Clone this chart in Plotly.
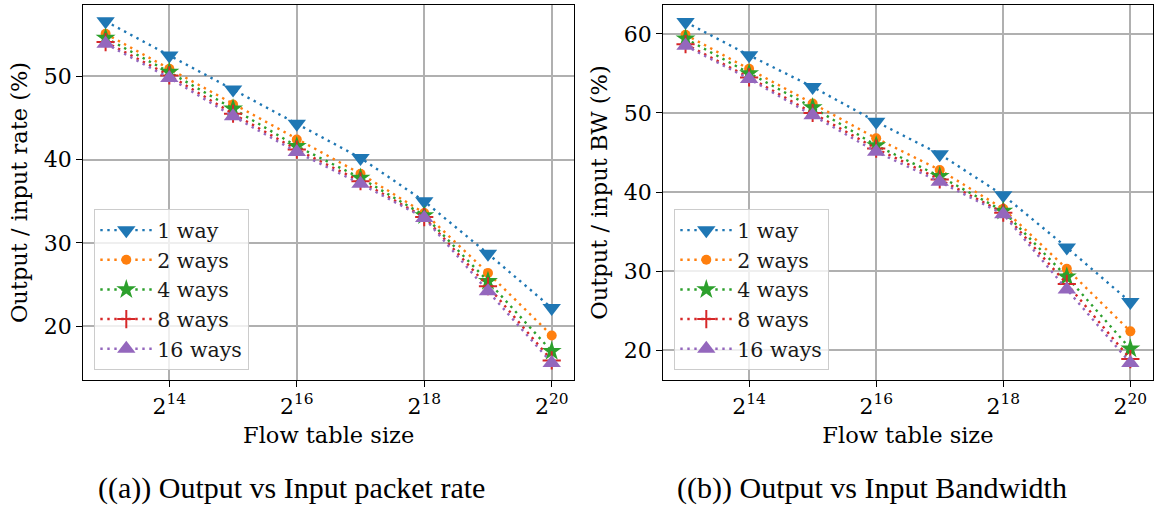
import math
import plotly.graph_objects as go

# ---- data ----
sizes = [2**13, 2**14, 2**15, 2**16, 2**17, 2**18, 2**19, 2**20]
labels = ["1 way", "2 ways", "4 ways", "8 ways", "16 ways"]

rate_1 = [56.6, 52.5, 48.4, 44.3, 40.2, 35.0, 28.7, 22.2]
rate_2 = [55.1, 50.9, 46.6, 42.4, 38.3, 33.6, 26.4, 18.9]
rate_4 = [54.6, 50.5, 46.1, 41.6, 37.8, 33.3, 25.4, 17.0]
rate_8 = [54.1, 50.1, 45.5, 41.2, 37.4, 33.1, 24.8, 15.9]
rate_16 = [53.9, 49.8, 45.2, 40.9, 37.1, 33.0, 24.2, 15.6]

bw_1 = [61.5, 57.3, 53.3, 48.9, 44.8, 39.6, 33.0, 26.1]
bw_2 = [59.9, 55.6, 51.2, 46.8, 42.8, 37.9, 30.3, 22.4]
bw_4 = [59.4, 55.0, 50.7, 45.9, 42.0, 37.6, 29.3, 20.2]
bw_8 = [58.7, 54.5, 50.0, 45.5, 41.6, 37.4, 28.4, 18.9]
bw_16 = [58.5, 54.3, 49.7, 45.1, 41.3, 37.2, 27.7, 18.4]

xtick_vals = [2**14, 2**16, 2**18, 2**20]
xtick_text = ["2<sup>14</sup>", "2<sup>16</sup>", "2<sup>18</sup>", "2<sup>20</sup>"]
ytick_rate = [20, 30, 40, 50]
ytick_bw = [20, 30, 40, 50, 60]

# ---- styles ----
colors = ["#1f77b4", "#ff7f0e", "#2ca02c", "#d62728", "#9467bd"]
symbols = ["triangle-down", "circle", "star", "cross-thin", "triangle-up"]
msizes = [16, 10, 15, 13, 16]
FONT = "DejaVu Serif"
CAPFONT = "Liberation Serif"

W, H = 1154, 507
fig = go.Figure()

def add_series(series, xaxis, yaxis, legend, grp):
    for i, (vals, lab) in enumerate(zip(series, labels)):
        mk = dict(symbol=symbols[i], size=msizes[i], color=colors[i])
        if symbols[i] == "cross-thin":
            mk["line"] = dict(color=colors[i], width=2)
        else:
            mk["line"] = dict(width=0)
        fig.add_trace(go.Scatter(
            x=sizes, y=vals, name=lab, mode="lines+markers",
            line=dict(color=colors[i], width=2.4, dash="2.4px,4.6px"),
            marker=mk, xaxis=xaxis, yaxis=yaxis, legend=legend,
            legendgroup=f"{grp}{i}",
        ))

add_series([rate_1, rate_2, rate_4, rate_8, rate_16], "x", "y", "legend", "a")
add_series([bw_1, bw_2, bw_4, bw_8, bw_16], "x2", "y2", "legend2", "b")

def px_x(p):
    return p / W

def px_y(p):
    return 1 - p / H

log2 = math.log10(2)
xr = [12.65 * log2, 20.35 * log2]

axis_common = dict(
    showline=True, linecolor="black", linewidth=1.4, mirror=True,
    ticks="outside", ticklen=6, tickwidth=1.3, tickcolor="black",
    showgrid=True, gridcolor="#b0b0b0", gridwidth=1.5,
    zeroline=False, automargin=False,
    tickfont=dict(family=FONT, size=22, color="black"),
)

ydom = [px_y(380), px_y(5)]
TFONT = dict(family=FONT, size=22.5, color="black")

fig.update_layout(
    width=W, height=H,
    margin=dict(l=0, r=0, t=0, b=0),
    paper_bgcolor="white", plot_bgcolor="white",
    font=dict(family=FONT, color="black"),
    xaxis=dict(axis_common, type="log", range=xr, domain=[px_x(83.3), px_x(574)],
               tickvals=xtick_vals, ticktext=xtick_text, anchor="y",
               title=dict(text="Flow table size", font=TFONT, standoff=9)),
    yaxis=dict(axis_common, range=[13.55, 58.55], domain=ydom, anchor="x",
               tickvals=ytick_rate,
               title=dict(text="Output / input rate (%)", font=TFONT, standoff=9)),
    xaxis2=dict(axis_common, type="log", range=xr, domain=[px_x(663.3), px_x(1152.6)],
                tickvals=xtick_vals, ticktext=xtick_text, anchor="y2",
                title=dict(text="Flow table size", font=TFONT, standoff=9)),
    yaxis2=dict(axis_common, range=[16.25, 63.65], domain=ydom, anchor="x2",
                tickvals=ytick_bw,
                title=dict(text="Output / input BW (%)", font=TFONT, standoff=9)),
    legend=dict(x=px_x(94), y=px_y(370), xanchor="left", yanchor="bottom",
                bgcolor="rgba(255,255,255,0.8)", bordercolor="#cccccc", borderwidth=1.3,
                font=dict(family=FONT, size=20.5, color="#1a1a1a"), itemwidth=52,
                tracegroupgap=0),
    legend2=dict(x=px_x(674), y=px_y(370), xanchor="left", yanchor="bottom",
                 bgcolor="rgba(255,255,255,0.8)", bordercolor="#cccccc", borderwidth=1.3,
                 font=dict(family=FONT, size=20.5, color="#1a1a1a"), itemwidth=52,
                 tracegroupgap=0),
    annotations=[
        dict(text="((a)) Output vs Input packet rate", x=px_x(292), y=px_y(487.5),
             xref="paper", yref="paper", showarrow=False, xanchor="center", yanchor="middle",
             font=dict(family=CAPFONT, size=30, color="black")),
        dict(text="((b)) Output vs Input Bandwidth", x=px_x(872), y=px_y(487.5),
             xref="paper", yref="paper", showarrow=False, xanchor="center", yanchor="middle",
             font=dict(family=CAPFONT, size=30, color="black")),
    ],
)

fig.write_html("out.html")
